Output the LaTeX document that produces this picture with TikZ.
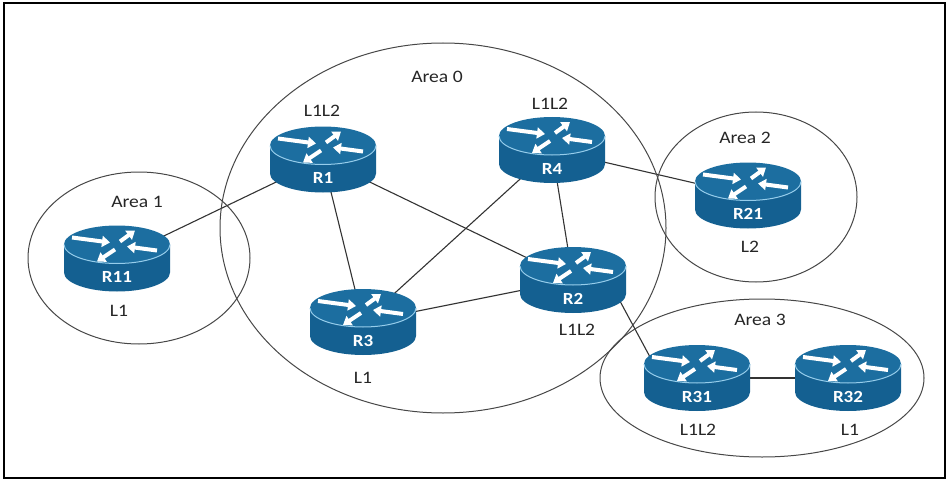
\documentclass[tikz,border=0pt]{standalone}
\usepackage{fontspec}
\setmainfont{Carlito}[FakeStretch=1.12]
\usepackage{tikz}
\usetikzlibrary{shapes,backgrounds,arrows.meta,calc}

\definecolor{rbody}{RGB}{20,96,145}
\definecolor{rtop}{RGB}{28,110,160}
\definecolor{rrim}{RGB}{150,205,235}

\tikzset{
  rname/.style={minimum width=106pt, minimum height=66pt, inner sep=0pt,
    text=white, font=\fontsize{17}{17}\selectfont\bfseries},
  rarrow/.style={white, line width=4pt, -{Triangle[length=8pt,width=11pt]}},
  area/.style={draw=black!72, line width=1pt},
  link/.style={draw=black!80, line width=1.1pt},
  lvl/.style={inner sep=0pt, text=black!85, font=\fontsize{17.5}{17.5}\selectfont}
}

% router: name, position, label
\newcommand\router[3]{%
  \begin{scope}[shift={#2}]
    \fill[rbody] (-53,14) -- (-53,-14) arc[start angle=180,end angle=360,x radius=53,y radius=19] -- (53,14) -- cycle;
    \fill[rtop] (0,14) ellipse[x radius=53,y radius=19];
    \draw[rrim, line width=1pt] (-53,14) arc[start angle=180,end angle=360,x radius=53,y radius=19];
    \draw[rarrow] (-45,21) -- (-7,16);   % in from the left
    \draw[rarrow] (3,17) -- (18,28);     % out to the back
    \draw[rarrow] (40,8) -- (10,12);     % in from the right
    \draw[rarrow] (-2,9) -- (-20,-3);    % out to the front
    \node[rname] (#1) at (0,0) {\raisebox{0pt}[57pt][9pt]{#3}};
  \end{scope}}

\begin{document}
\begin{tikzpicture}[x=1pt,y=1pt]
	\useasboundingbox (0,0) rectangle (950,483);
	\draw[line width=2.5pt] (4,5) rectangle (945,480);
	% areas
	\draw[area] (443,255) ellipse[x radius=223,y radius=185];
	\draw[area] (139,225) ellipse[x radius=111,y radius=86];
	\draw[area] (756,286) ellipse[x radius=101,y radius=85];
	\draw[area] (762,105) ellipse[x radius=162,y radius=79];
	\node[lvl] (area0) at (437,406) {Area 0};
	\node[lvl] (area1) at (137,281) {Area 1};
	\node[lvl] (area2) at (745,345) {Area 2};
	\node[lvl] (area3) at (760,163) {Area 3};
	% routers
	\router{R11}{(117,224.5)}{R11}
	\router{R1}{(323,323.5)}{R1}
	\router{R4}{(552,333)}{R4}
	\router{R21}{(748,287.5)}{R21}
	\router{R2}{(573,203)}{R2}
	\router{R3}{(363,161)}{R3}
	\router{R31}{(697,105)}{R31}
	\router{R32}{(848,105)}{R32}
	% levels
	\node[lvl] (lvR11) at (119,172) {L1};
	\node[lvl] (lvR1) at (322,372) {L1L2};
	\node[lvl] (lvR4) at (550,379) {L1L2};
	\node[lvl] (lvR21) at (750,236) {L2};
	\node[lvl] (lvR2) at (577,153) {L1L2};
	\node[lvl] (lvR3) at (363,105) {L1};
	\node[lvl] (lvR31) at (698,53) {L1L2};
	\node[lvl] (lvR32) at (850,53) {L1};
	% links, behind the routers
	\begin{scope}[on background layer]
		\draw[link] (R11.center) -- (R1.center);
		\draw[link] (R1.center) -- (R3.center);
		\draw[link] (R1.center) -- (R2.center);
		\draw[link] (R4.center) -- (R3.center);
		\draw[link] (R4.center) -- (R2.center);
		\draw[link] (R4.center) -- (R21.center);
		\draw[link] (R3.center) -- (R2.center);
		\draw[link] ($(R2.center)+(41,-10)$) -- ($(R31.center)+(-40,8)$);
		\draw[link] (R31.center) -- (R32.center);
	\end{scope}
\end{tikzpicture}
\end{document}
